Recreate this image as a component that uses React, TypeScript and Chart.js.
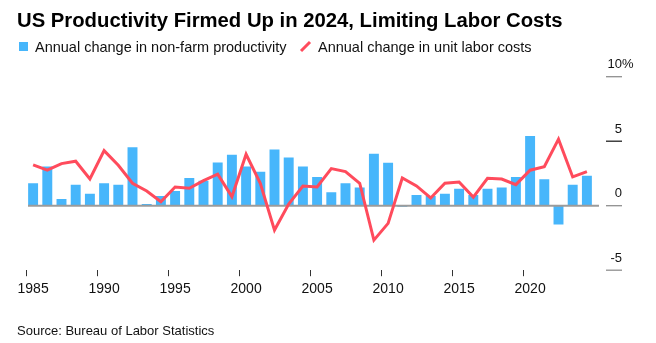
import React, { useEffect, useRef } from "react";
import { Chart, registerables } from "chart.js";

Chart.register(...registerables);

const years: string[] = [
  "1985","1986","1987","1988","1989","1990","1991","1992","1993","1994",
  "1995","1996","1997","1998","1999","2000","2001","2002","2003","2004",
  "2005","2006","2007","2008","2009","2010","2011","2012","2013","2014",
  "2015","2016","2017","2018","2019","2020","2021","2022","2023","2024",
];

const productivity: number[] = [
  1.74, 3.03, 0.52, 1.63, 0.93, 1.74, 1.63, 4.53, 0.13, 0.75,
  1.14, 2.15, 1.94, 3.34, 3.94, 3.03, 2.64, 4.35, 3.73, 3.03,
  2.23, 1.04, 1.74, 1.42, 4.02, 3.32, -0.08, 0.83, 0.75, 0.93,
  1.32, 0.83, 1.32, 1.42, 2.23, 5.41, 2.05, -1.45, 1.63, 2.33,
];

const unitLaborCosts: number[] = [
  3.16, 2.75, 3.26, 3.45, 2.07, 4.27, 3.13, 1.74, 1.14, 0.31,
  1.45, 1.35, 1.94, 2.44, 0.70, 3.99, 1.74, -1.89, 0.13, 1.53,
  1.45, 2.88, 2.64, 1.74, -2.67, -1.37, 2.15, 1.53, 0.60, 1.74,
  1.84, 0.67, 2.12, 2.07, 1.63, 2.75, 3.03, 5.16, 2.23, 2.64,
];

const yTicks: number[] = [10, 5, 0, -5];
const xTickYears: string[] = ["1985","1990","1995","2000","2005","2010","2015","2020"];

const BLUE = "#47b6fb";
const RED = "#ff4b5c";
const FONT = "'Liberation Sans', Arial, sans-serif";

const customAxes = {
  id: "customAxes",
  afterDatasetDraw(chart: any, args: any) {
    if (args.index !== 0) return;
    const { ctx, chartArea, scales } = chart;
    const y0 = scales.y.getPixelForValue(0);
    ctx.save();
    ctx.strokeStyle = "#9b9b9b";
    ctx.lineWidth = 2;
    ctx.beginPath();
    ctx.moveTo(chartArea.left + 2, y0);
    ctx.lineTo(chartArea.right + 5, y0);
    ctx.stroke();
    ctx.restore();
  },
  afterDraw(chart: any) {
    const { ctx, chartArea, scales } = chart;
    ctx.save();
    ctx.font = `13px ${FONT}`;
    ctx.textBaseline = "alphabetic";
    for (const v of yTicks) {
      const y = scales.y.getPixelForValue(v);
      ctx.strokeStyle = v === 5 ? "#222" : "#8f8f8f";
      ctx.lineWidth = 1.3;
      ctx.beginPath();
      ctx.moveTo(chartArea.right + 12, y);
      ctx.lineTo(chartArea.right + 28, y);
      ctx.stroke();
      ctx.fillStyle = "#111";
      ctx.textAlign = "right";
      ctx.fillText(String(v), chartArea.right + 28, y - 8.5);
      if (v === yTicks[0]) {
        ctx.textAlign = "left";
        ctx.fillText("%", chartArea.right + 28, y - 8.5);
      }
    }
    ctx.restore();
  },
};

export default function App() {
  const ref = useRef<HTMLCanvasElement | null>(null);

  useEffect(() => {
    if (!ref.current) return;
    const chart = new Chart(ref.current, {
      type: "bar",
      data: {
        labels: years,
        datasets: [
          {
            type: "bar",
            label: "Annual change in non-farm productivity",
            data: productivity,
            backgroundColor: BLUE,
            borderWidth: 0,
            barPercentage: 0.7,
            categoryPercentage: 1,
            order: 1,
          },
          {
            type: "line",
            label: "Annual change in unit labor costs",
            data: unitLaborCosts,
            borderColor: RED,
            backgroundColor: RED,
            borderWidth: 3,
            pointRadius: 0,
            tension: 0,
            order: 0,
          } as any,
        ],
      },
      options: {
        responsive: false,
        animation: false,
        layout: { padding: { left: 26, right: 62, top: 76.7, bottom: 40 } },
        plugins: {
          legend: { display: false },
          title: { display: false },
          tooltip: { enabled: false },
        },
        scales: {
          x: {
            type: "category",
            offset: true,
            border: { display: false },
            grid: {
              drawOnChartArea: false,
              drawTicks: true,
              tickLength: 6,
              color: (c: any) => {
                const lbl = years[c.index];
                return xTickYears.includes(lbl) ? "#333" : "rgba(0,0,0,0)";
              },
              lineWidth: 1,
            },
            ticks: {
              autoSkip: false,
              maxRotation: 0,
              padding: 5,
              color: "#111",
              font: { family: FONT, size: 14 },
              callback: (_v: any, i: number) => (xTickYears.includes(years[i]) ? years[i] : ""),
            },
          },
          y: {
            display: false,
            min: -5,
            max: 10,
          },
        },
      },
      plugins: [customAxes],
    });
    return () => chart.destroy();
  }, []);

  const base: React.CSSProperties = {
    position: "absolute",
    fontFamily: FONT,
    whiteSpace: "nowrap",
    color: "#000",
  };

  return (
    <div style={{ position: "fixed", left: 0, top: 0, width: 656, height: 343, background: "#fff" }}>
      <canvas ref={ref} width={656} height={343} style={{ position: "absolute", left: 0, top: 0 }} />
      <div style={{ ...base, left: 17, top: 7.7, fontSize: 20.3, lineHeight: "24px", fontWeight: 700 }}>
        US Productivity Firmed Up in 2024, Limiting Labor Costs
      </div>
      <div style={{ ...base, left: 19, top: 42, width: 9, height: 9, background: BLUE }} />
      <div style={{ ...base, left: 35, top: 37.7, fontSize: 14.5, lineHeight: "18px", color: "#111" }}>
        Annual change in non-farm productivity
      </div>
      <svg style={{ position: "absolute", left: 299, top: 40 }} width={13} height={13}>
        <line x1={2} y1={11} x2={11} y2={2} stroke={RED} strokeWidth={3} />
      </svg>
      <div style={{ ...base, left: 318, top: 37.7, fontSize: 14.5, lineHeight: "18px", color: "#111" }}>
        Annual change in unit labor costs
      </div>
      <div style={{ ...base, left: 17, top: 322.5, fontSize: 13, lineHeight: "16px", color: "#111" }}>
        Source: Bureau of Labor Statistics
      </div>
    </div>
  );
}
